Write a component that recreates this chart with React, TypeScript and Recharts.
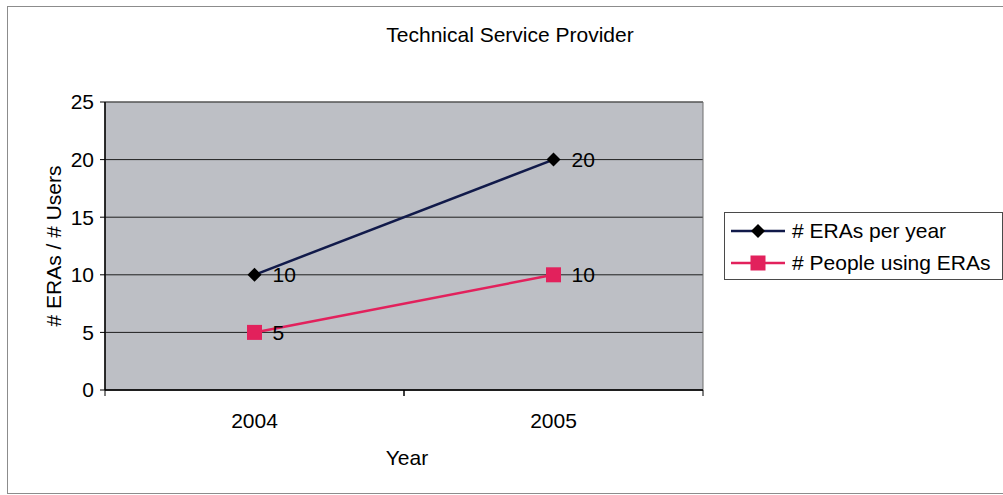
import {
  CartesianGrid,
  LabelList,
  Legend,
  Line,
  LineChart,
  ReferenceArea,
  XAxis,
  YAxis,
} from "recharts";

const years = ["2004", "2005"];
const erasPerYear = [10, 20];
const peopleUsingEras = [5, 10];
const yTicks = [0, 5, 10, 15, 20, 25];

const data = years.map((year, i) => ({
  year,
  eras: erasPerYear[i],
  people: peopleUsingEras[i],
}));

const font = "'Liberation Sans', Arial, Helvetica, sans-serif";

const colors = {
  eras: "#111a4a",
  erasMarker: "#000000",
  people: "#e2215c",
  plot: "#bdbfc5",
  grid: "#1e1e1e",
  frame: "#8c8c8c",
};

function DiamondDot({ cx, cy }: { cx?: number; cy?: number }) {
  if (cx == null || cy == null) return null;
  const r = 7;
  return (
    <path
      d={`M${cx} ${cy - r} L${cx + r} ${cy} L${cx} ${cy + r} L${cx - r} ${cy} Z`}
      fill={colors.erasMarker}
    />
  );
}

function SquareDot({ cx, cy }: { cx?: number; cy?: number }) {
  if (cx == null || cy == null) return null;
  return <rect x={cx - 7.5} y={cy - 7.5} width={15} height={15} fill={colors.people} />;
}

// category label plus tick marks on the band edges
function YearTick(props: any) {
  const { x, y, payload } = props;
  const half = payload?.offset || 149.5;
  return (
    <g>
      <line x1={x - half} y1={y} x2={x - half} y2={y + 6} stroke="#000" />
      <line x1={x + half} y1={y} x2={x + half} y2={y + 6} stroke="#000" />
      <text x={x} y={y + 38} textAnchor="middle" fontSize={21} fill="#000">
        {payload.value}
      </text>
    </g>
  );
}

function LegendIcon({ kind }: { kind: "eras" | "people" }) {
  return (
    <svg width={54} height={20}>
      <line
        x1={0}
        y1={10}
        x2={54}
        y2={10}
        stroke={kind === "eras" ? colors.eras : colors.people}
        strokeWidth={2.5}
      />
      {kind === "eras" ? (
        <path d="M27 3 L34 10 L27 17 L20 10 Z" fill={colors.erasMarker} />
      ) : (
        <rect x={19.5} y={2.5} width={15} height={15} fill={colors.people} />
      )}
    </svg>
  );
}

function LegendBox() {
  const rows: Array<{ kind: "eras" | "people"; label: string }> = [
    { kind: "eras", label: "# ERAs per year" },
    { kind: "people", label: "# People using ERAs" },
  ];
  return (
    <div
      style={{
        boxSizing: "border-box",
        width: 279,
        height: 68,
        paddingTop: 2,
        border: "1px solid #4a4a4a",
        background: "#fff",
        fontFamily: font,
        fontSize: 21,
        color: "#000",
      }}
    >
      {rows.map((row) => (
        <div
          key={row.kind}
          style={{ display: "flex", alignItems: "center", height: 32, paddingLeft: 6, gap: 7 }}
        >
          <LegendIcon kind={row.kind} />
          <span>{row.label}</span>
        </div>
      ))}
    </div>
  );
}

export default function App() {
  return (
    <div
      style={{
        position: "absolute",
        left: 0,
        top: 0,
        width: 1003,
        height: 495,
        overflow: "hidden",
        background: "#fff",
        fontFamily: font,
      }}
    >
      <div
        style={{
          position: "absolute",
          left: 7,
          top: 6,
          width: 1010,
          height: 488,
          boxSizing: "border-box",
          borderLeft: `1px solid ${colors.frame}`,
          borderTop: `1px solid ${colors.frame}`,
          borderBottom: `1px solid ${colors.frame}`,
        }}
      />
      <div
        style={{
          position: "absolute",
          left: 0,
          top: 23,
          width: 1020,
          textAlign: "center",
          fontSize: 21,
          lineHeight: "24px",
          color: "#000",
        }}
      >
        Technical Service Provider
      </div>
      <LineChart
        width={1003}
        height={495}
        data={data}
        margin={{ top: 102, right: 300, bottom: 25, left: 45 }}
        style={{ position: "absolute", left: 0, top: 0, fontFamily: font }}
      >
        <CartesianGrid
          vertical={false}
          stroke={colors.grid}
          strokeWidth={1}
          fill={colors.plot}
          fillOpacity={1}
        />
        <ReferenceArea y1={0} y2={25} fill="none" stroke="#6e6e6e" strokeWidth={1} />
        <XAxis
          dataKey="year"
          scale="band"
          height={80}
          tickSize={0}
          tickMargin={0}
          tickLine={false}
          axisLine={{ stroke: "#000", strokeWidth: 1.5 }}
          tick={<YearTick />}
          interval={0}
          label={({ viewBox }: any) => (
            <text
              x={viewBox.x + viewBox.width / 2 + 3}
              y={viewBox.y + 75}
              textAnchor="middle"
              fontSize={21}
              fill="#000"
            >
              Year
            </text>
          )}
        />
        <YAxis
          width={60}
          domain={[0, 25]}
          ticks={yTicks}
          interval={0}
          tickSize={5}
          tickMargin={6}
          tickLine={{ stroke: "#000" }}
          axisLine={{ stroke: "#000", strokeWidth: 1.5 }}
          tick={{ fill: "#000", fontSize: 21 }}
          label={({ viewBox }: any) => (
            <text
              x={53}
              y={viewBox.y + viewBox.height / 2}
              transform={`rotate(-90 53 ${viewBox.y + viewBox.height / 2})`}
              textAnchor="middle"
              dominantBaseline="central"
              fontSize={21}
              fill="#000"
            >
              # ERAs / # Users
            </text>
          )}
        />
        <Legend
          layout="vertical"
          align="center"
          verticalAlign="middle"
          content={<LegendBox />}
          wrapperStyle={{ left: 724, top: 212, width: 279, height: 68 }}
        />
        <Line
          dataKey="eras"
          name="# ERAs per year"
          type="linear"
          stroke={colors.eras}
          strokeWidth={2.5}
          dot={<DiamondDot />}
          activeDot={false}
          isAnimationActive={false}
        >
          <LabelList dataKey="eras" position="right" offset={18} fill="#000" fontSize={21} />
        </Line>
        <Line
          dataKey="people"
          name="# People using ERAs"
          type="linear"
          stroke={colors.people}
          strokeWidth={2.5}
          dot={<SquareDot />}
          activeDot={false}
          isAnimationActive={false}
        >
          <LabelList dataKey="people" position="right" offset={18} fill="#000" fontSize={21} />
        </Line>
      </LineChart>
    </div>
  );
}
